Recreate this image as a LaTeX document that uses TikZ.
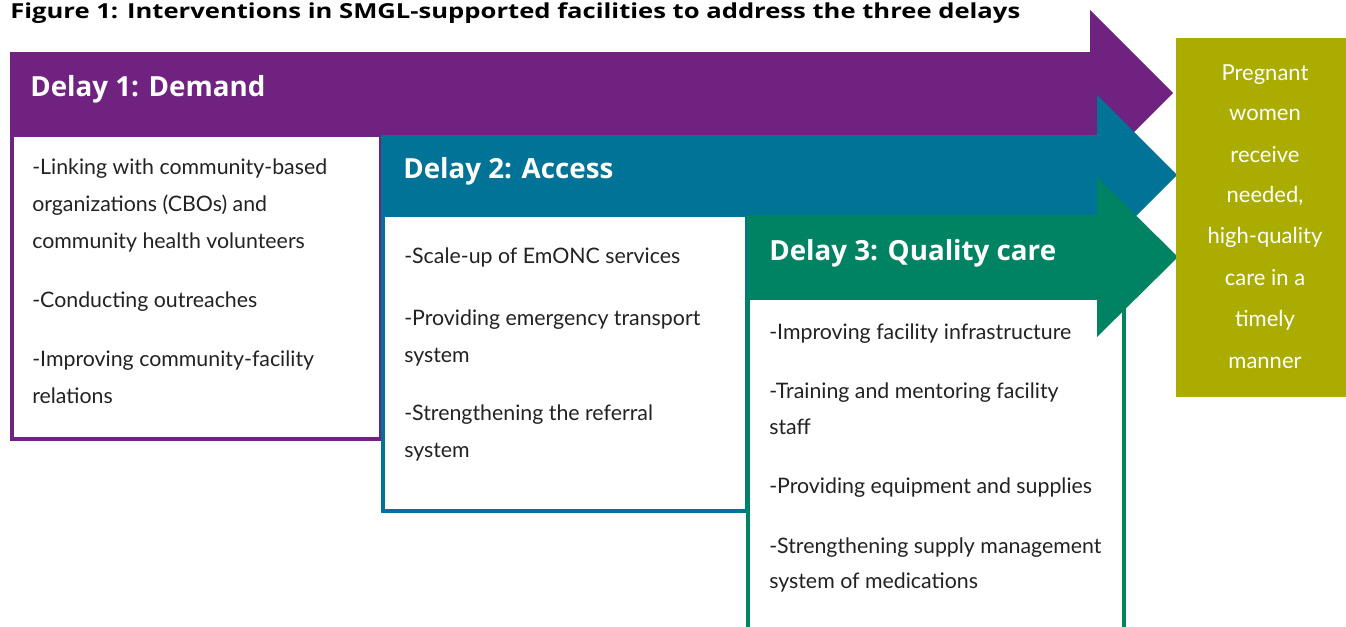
\documentclass[tikz,border=0pt]{standalone}
\usepackage{fontspec}
\setmainfont{Lato}
\newfontfamily\headfont{Open Sans}
\definecolor{dpurple}{RGB}{112,34,128}
\definecolor{dteal}{RGB}{0,115,150}
\definecolor{dgreen}{RGB}{0,131,99}
\definecolor{olive}{RGB}{170,173,0}
\definecolor{ink}{RGB}{34,34,34}
\begin{document}
\begin{tikzpicture}[x=0.75pt,y=-0.75pt,
  itemline/.style={anchor=base west, inner sep=0pt, text=ink,
    font=\fontsize{16}{19}\selectfont},
  delayhead/.style={anchor=base west, inner sep=0pt, text=white,
    font=\headfont\fontsize{20.8}{25}\selectfont\bfseries},
  goalline/.style={anchor=base, inner sep=0pt, text=white,
    font=\fontsize{16.5}{20}\selectfont},
  listbox/.style={line width=3pt, fill=white},
]
\useasboundingbox (0,0) rectangle (1346,626);

% title, set to the full line width
\node[anchor=base west, inner sep=0pt, text=black,
  font=\headfont\fontsize{15.5}{18}\selectfont\bfseries] (title) at (10,18)
  {\resizebox{757.5pt}{\height}{Figure 1: Interventions in SMGL-supported facilities to address the three delays}};

% Delay 1
\draw[listbox, draw=dpurple] (12,135) rectangle (381,439);
\fill[dpurple] (10,52) -- (1090,52) -- (1090,10) -- (1173,93) -- (1090,176)
  -- (1090,135) -- (10,135) -- cycle;
\node[delayhead] (h1) at (30,96) {Delay 1: Demand};

% Delay 2
\draw[listbox, draw=dteal] (383,215) rectangle (747,511);
\fill[dteal] (381,135) -- (1097,135) -- (1097,95) -- (1177,175) -- (1097,255)
  -- (1097,215) -- (381,215) -- cycle;
\node[delayhead] (h2) at (403,178) {Delay 2: Access};

% Delay 3
\draw[listbox, draw=dgreen] (748,298) rectangle (1124,640);
\fill[dgreen] (747,215) -- (1097,215) -- (1097,177) -- (1178,257) -- (1097,337)
  -- (1097,298) -- (747,298) -- cycle;
\node[delayhead] (h3) at (769,260) {Delay 3: Quality care};

% outcome box
\fill[olive] (1176,38) rectangle (1346,397);

% list items
\foreach \y/\t [count=\i] in {
  174/{-Linking with community-based},
  211/{organizations (CBOs) and},
  248/{community health volunteers},
  307/{-Conducting outreaches},
  366/{-Improving community-facility},
  403/{relations}}
  \node[itemline] (a\i) at (32,\y) {\t};

\foreach \y/\t [count=\i] in {
  263/{-Scale-up of EmONC services},
  325/{-Providing emergency transport},
  362/{system},
  420/{-Strengthening the referral},
  457/{system}}
  \node[itemline] (b\i) at (404,\y) {\t};

\foreach \y/\t [count=\i] in {
  339/{-Improving facility infrastructure},
  398/{-Training and mentoring facility},
  434/{staff},
  493/{-Providing equipment and supplies},
  553/{-Strengthening supply management},
  588/{system of medications}}
  \node[itemline] (c\i) at (769,\y) {\t};

\foreach \y/\t [count=\i] in {
  80/{Pregnant}, 120/{women}, 162/{receive}, 202/{needed,},
  243/{high-quality}, 285/{care in a}, 326/{timely}, 368/{manner}}
  \node[goalline] (g\i) at (1265,\y) {\t};
\end{tikzpicture}
\end{document}
